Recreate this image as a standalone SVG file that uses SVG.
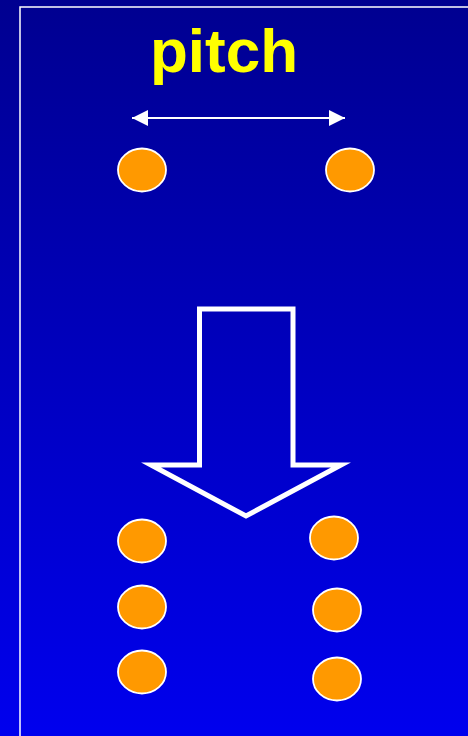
<svg xmlns="http://www.w3.org/2000/svg" width="468" height="736" viewBox="0 0 468 736">
<defs>
<linearGradient id="bg" x1="0" y1="0" x2="0" y2="1">
<stop offset="0" stop-color="#000090"/>
<stop offset="1" stop-color="#0000EE"/>
</linearGradient>
<marker id="ah" viewBox="0 0 16 16" refX="16" refY="8" markerWidth="16" markerHeight="16" markerUnits="userSpaceOnUse" orient="auto-start-reverse">
<path d="M0,0 L16,8 L0,16 Z" fill="#FFFFFF"/>
</marker>
<style>
.ball{fill:#FF9900;stroke:#FFFFFF;stroke-width:1.8}
.lbl{font-family:"Liberation Sans",Arial,sans-serif;font-weight:bold;fill:#FFFF00}
</style>
</defs>
<rect x="0" y="0" width="468" height="736" fill="url(#bg)"/>
<rect x="20" y="7" width="500" height="800" fill="none" stroke="#FFFFFF" stroke-width="1.5"/>
<g id="label"><text class="lbl" x="224" y="72" font-size="62" text-anchor="middle">pitch</text></g>
<g id="connectors">
<line x1="132" y1="118" x2="345" y2="118" stroke="#FFFFFF" stroke-width="2" marker-start="url(#ah)" marker-end="url(#ah)"/>
<polygon id="bigarrow" points="199.5,309 293,309 293,465 341,465 246,516 151,465 199.5,465" fill="none" stroke="#FFFFFF" stroke-width="5" stroke-miterlimit="10"/>
</g>
<g id="ball-top-left"><ellipse class="ball" cx="142" cy="170" rx="24" ry="21.5"/></g>
<g id="ball-top-right"><ellipse class="ball" cx="350" cy="170" rx="24" ry="21.5"/></g>
<g id="ball-l1"><ellipse class="ball" cx="142" cy="541" rx="24" ry="21.5"/></g>
<g id="ball-l2"><ellipse class="ball" cx="142" cy="607" rx="24" ry="21.5"/></g>
<g id="ball-l3"><ellipse class="ball" cx="142" cy="672" rx="24" ry="21.5"/></g>
<g id="ball-r1"><ellipse class="ball" cx="334" cy="538" rx="24" ry="21.5"/></g>
<g id="ball-r2"><ellipse class="ball" cx="337" cy="610" rx="24" ry="21.5"/></g>
<g id="ball-r3"><ellipse class="ball" cx="337" cy="679" rx="24" ry="21.5"/></g>
</svg>
